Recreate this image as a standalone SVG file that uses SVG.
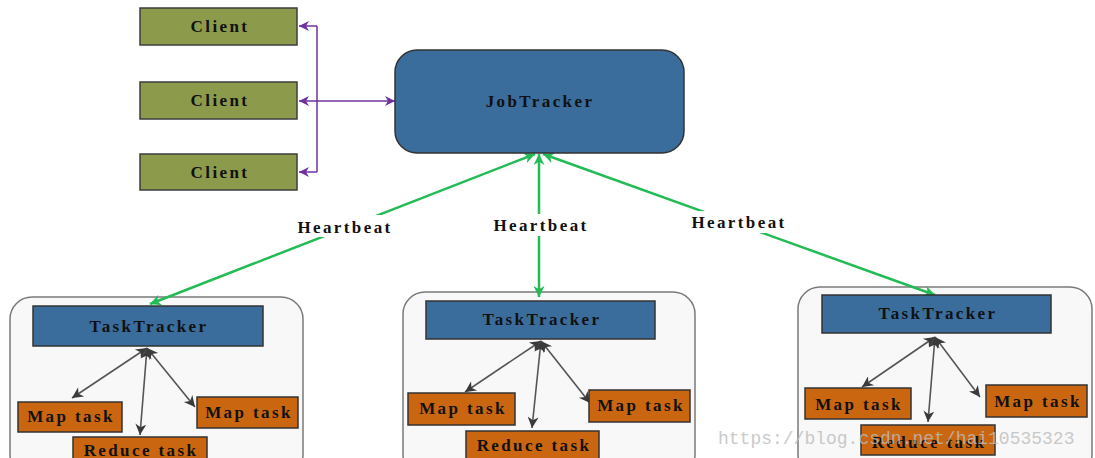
<svg xmlns="http://www.w3.org/2000/svg" width="1095" height="458" viewBox="0 0 1095 458">
<defs>
<style>
.t{font-family:"Liberation Serif","Times New Roman",serif;font-weight:bold;font-size:17px;letter-spacing:2.4px;fill:#111;text-anchor:middle}
.client{fill:#8b9b4b;stroke:#3d3d3d;stroke-width:1.5}
.blue{fill:#3a6c9c;stroke:#333;stroke-width:1.5}
.task{fill:#c9660f;stroke:#333;stroke-width:1.5}
.cont{fill:#f8f8f8;stroke:#7a7a7a;stroke-width:1.5}
.hb{stroke:#22bb55;stroke-width:2.5;fill:none}
.pu{stroke:#7030a0;stroke-width:1.5;fill:none}
.gr{stroke:#555;stroke-width:1.6;fill:none}
.wm{font-family:"Liberation Mono","Courier New",monospace;font-size:18px;fill:#bdbdbd;opacity:0.8}
</style>
<marker id="ag" viewBox="0 0 10 10" refX="10" refY="5" markerWidth="13" markerHeight="11" markerUnits="userSpaceOnUse" orient="auto-start-reverse"><path d="M0,0 L10,5 L0,10 L3,5 z" fill="#22bb55"/></marker>
<marker id="ap" viewBox="0 0 10 10" refX="10" refY="5" markerWidth="12" markerHeight="10" markerUnits="userSpaceOnUse" orient="auto-start-reverse"><path d="M0,0 L10,5 L0,10 L3,5 z" fill="#7030a0"/></marker>
<marker id="ak" viewBox="0 0 10 10" refX="10" refY="5" markerWidth="14" markerHeight="11" markerUnits="userSpaceOnUse" orient="auto-start-reverse"><path d="M0,0 L10,5 L0,10 L3,5 z" fill="#3a3a3a"/></marker>
</defs>

<g id="containers">
<rect id="tt1-container" class="cont" x="10" y="297" width="293" height="180" rx="22"/>
<rect id="tt2-container" class="cont" x="403" y="292" width="292" height="185" rx="22"/>
<rect id="tt3-container" class="cont" x="798" y="287" width="294" height="190" rx="22"/>
</g>

<g id="connectors">
<path class="pu" d="M317,26 V172"/>
<path class="pu" d="M317,26 H299" marker-end="url(#ap)"/>
<path class="pu" d="M317,172 H299" marker-end="url(#ap)"/>
<path class="pu" d="M299,101 H395" marker-start="url(#ap)" marker-end="url(#ap)"/>
<path class="hb" d="M535,154 L150,304" marker-start="url(#ag)" marker-end="url(#ag)"/>
<path class="hb" d="M539,154 L539,297" marker-start="url(#ag)" marker-end="url(#ag)"/>
<path class="hb" d="M543,154 L935,295" marker-start="url(#ag)" marker-end="url(#ag)"/>
<path class="gr" d="M147,348 L72,398" marker-start="url(#ak)" marker-end="url(#ak)"/>
<path class="gr" d="M147,348 L140,435" marker-start="url(#ak)" marker-end="url(#ak)"/>
<path class="gr" d="M147,348 L195,407" marker-start="url(#ak)" marker-end="url(#ak)"/>
<path class="gr" d="M541,341 L465,392" marker-start="url(#ak)" marker-end="url(#ak)"/>
<path class="gr" d="M541,341 L532,428" marker-start="url(#ak)" marker-end="url(#ak)"/>
<path class="gr" d="M541,341 L590,403" marker-start="url(#ak)" marker-end="url(#ak)"/>
<path class="gr" d="M935,337 L862,387" marker-start="url(#ak)" marker-end="url(#ak)"/>
<path class="gr" d="M935,337 L928,422" marker-start="url(#ak)" marker-end="url(#ak)"/>
<path class="gr" d="M935,337 L980,397" marker-start="url(#ak)" marker-end="url(#ak)"/>
<rect x="292" y="215" width="104" height="22" fill="#fff"/>
<text class="t" x="345" y="233">Heartbeat</text>
<rect x="488" y="214" width="104" height="22" fill="#fff"/>
<text class="t" x="541" y="231">Heartbeat</text>
<rect x="686" y="211" width="104" height="22" fill="#fff"/>
<text class="t" x="739" y="228">Heartbeat</text>
</g>

<g id="client1"><rect class="client" x="140" y="8" width="157" height="37"/><text class="t" x="220" y="32">Client</text></g>
<g id="client2"><rect class="client" x="140" y="82" width="157" height="37"/><text class="t" x="220" y="106">Client</text></g>
<g id="client3"><rect class="client" x="140" y="154" width="157" height="36"/><text class="t" x="220" y="178">Client</text></g>

<g id="jobtracker"><rect class="blue" x="395" y="50" width="289" height="103" rx="22"/><text class="t" x="540" y="107">JobTracker</text></g>

<g id="tasktracker1"><rect class="blue" x="33" y="306" width="230" height="40"/><text class="t" x="149" y="332">TaskTracker</text></g>
<g id="map1a"><rect class="task" x="18" y="402" width="104" height="30"/><text class="t" x="71" y="422">Map task</text></g>
<g id="map1b"><rect class="task" x="197" y="397" width="101" height="31"/><text class="t" x="249" y="418">Map task</text></g>
<g id="reduce1"><rect class="task" x="73" y="437" width="134" height="35"/><text class="t" x="141" y="456">Reduce task</text></g>

<g id="tasktracker2"><rect class="blue" x="426" y="301" width="229" height="38"/><text class="t" x="542" y="325">TaskTracker</text></g>
<g id="map2a"><rect class="task" x="408" y="393" width="107" height="32"/><text class="t" x="463" y="414">Map task</text></g>
<g id="map2b"><rect class="task" x="589" y="390" width="101" height="32"/><text class="t" x="641" y="411">Map task</text></g>
<g id="reduce2"><rect class="task" x="466" y="431" width="133" height="40"/><text class="t" x="534" y="451">Reduce task</text></g>

<g id="tasktracker3"><rect class="blue" x="822" y="295" width="229" height="38"/><text class="t" x="938" y="319">TaskTracker</text></g>
<g id="map3a"><rect class="task" x="805" y="388" width="106" height="31"/><text class="t" x="859" y="410">Map task</text></g>
<g id="map3b"><rect class="task" x="986" y="385" width="101" height="32"/><text class="t" x="1038" y="407">Map task</text></g>
<g id="reduce3"><rect class="task" x="861" y="425" width="134" height="30"/><text class="t" x="929" y="448">Reduce task</text></g>

<text class="wm" x="718" y="444">https://blog.csdn.net/hai10535323</text>
</svg>
